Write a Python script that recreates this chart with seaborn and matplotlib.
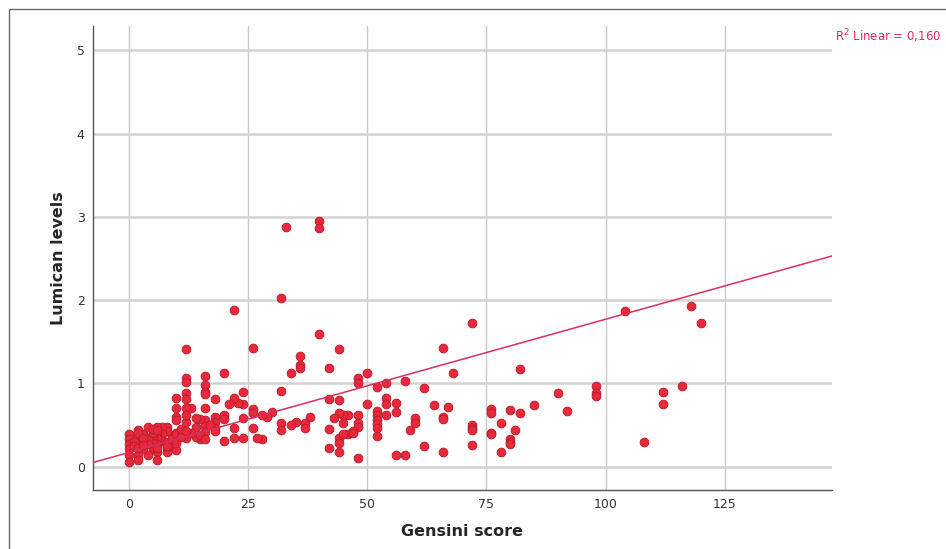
import matplotlib
matplotlib.use("Agg")
import matplotlib.pyplot as plt
import matplotlib.patches as mpatches
import seaborn as sns
import pandas as pd

# Values (Gensini score vs Lumican levels)
gensini = [
    33, 40, 40, 32, 22, 40, 12, 26, 44, 36, 36, 36, 34, 42, 20, 16, 16, 50, 48, 48,
    54, 52, 58, 62, 72, 66, 68, 82, 104, 118, 120, 116, 112, 112, 98, 98, 98, 90, 92, 85,
    80, 80, 80, 80, 82, 81, 78, 78, 76, 76, 76, 76, 72, 72, 72, 72, 67, 64, 66, 66,
    66, 62, 108, 58, 56, 59, 60, 60, 56, 56, 54, 54, 54, 52, 52, 52, 52, 52, 52, 50,
    48, 48, 48, 48, 47, 46, 45, 45, 44, 44, 44, 44, 43, 42, 42, 42, 44, 46, 47, 45,
    38, 37, 37, 35, 34, 32, 32, 32, 30, 29, 28, 28, 27, 26, 26, 26, 24, 24, 23, 22,
    21, 24, 24, 22, 22, 20, 20, 20, 18, 18, 18, 18, 16, 16, 16, 16, 16, 16, 15, 15,
    14, 14, 13, 12, 12, 12, 12, 12, 12, 12, 13, 10, 10, 10, 10, 10, 10, 10, 9, 9,
    8, 8, 8, 8, 7, 7, 7, 6, 6, 6, 6, 6, 6, 5, 5, 5, 4, 4, 4, 4,
    3, 3, 3, 2, 2, 2, 2, 2, 0, 0, 0, 0, 0, 0, 1, 1, 2, 2, 3, 3,
    5, 5, 6, 6, 8, 8, 9, 10, 10, 11, 11, 12, 12, 14, 15, 16, 17, 18,
]
lumican = [
    2.88, 2.95, 2.87, 2.02, 1.88, 1.59, 1.41, 1.43, 1.41, 1.33, 1.22, 1.18, 1.13, 1.18, 1.12, 1.09, 0.98, 1.12, 1.06, 1.01,
    1.00, 0.96, 1.03, 0.95, 1.73, 1.42, 1.13, 1.17, 1.87, 1.93, 1.72, 0.97, 0.90, 0.75, 0.97, 0.88, 0.85, 0.88, 0.67, 0.74,
    0.68, 0.33, 0.30, 0.27, 0.65, 0.44, 0.52, 0.18, 0.69, 0.65, 0.41, 0.39, 0.50, 0.47, 0.44, 0.26, 0.72, 0.74, 0.60, 0.57,
    0.18, 0.25, 0.30, 0.14, 0.14, 0.44, 0.59, 0.53, 0.77, 0.66, 0.83, 0.75, 0.62, 0.67, 0.62, 0.56, 0.51, 0.47, 0.37, 0.75,
    0.62, 0.52, 0.48, 0.11, 0.43, 0.62, 0.62, 0.52, 0.65, 0.35, 0.29, 0.18, 0.58, 0.81, 0.45, 0.23, 0.80, 0.39, 0.40, 0.39,
    0.60, 0.52, 0.47, 0.54, 0.50, 0.91, 0.52, 0.44, 0.66, 0.60, 0.62, 0.33, 0.34, 0.69, 0.65, 0.47, 0.90, 0.75, 0.77, 0.83,
    0.75, 0.58, 0.34, 0.47, 0.35, 0.62, 0.57, 0.31, 0.81, 0.60, 0.54, 0.46, 0.90, 0.87, 0.71, 0.56, 0.49, 0.42, 0.57, 0.33,
    0.48, 0.36, 0.70, 0.70, 1.06, 1.02, 0.88, 0.81, 0.54, 0.35, 0.41, 0.83, 0.70, 0.60, 0.56, 0.41, 0.36, 0.20, 0.37, 0.29,
    0.48, 0.43, 0.22, 0.18, 0.48, 0.39, 0.31, 0.48, 0.40, 0.34, 0.27, 0.18, 0.08, 0.35, 0.29, 0.22, 0.48, 0.35, 0.27, 0.14,
    0.39, 0.31, 0.21, 0.44, 0.36, 0.29, 0.14, 0.08, 0.39, 0.33, 0.27, 0.21, 0.14, 0.06, 0.30, 0.25, 0.22, 0.40, 0.35, 0.26,
    0.40, 0.45, 0.44, 0.22, 0.30, 0.25, 0.33, 0.29, 0.39, 0.45, 0.36, 0.43, 0.62, 0.58, 0.38, 0.33, 0.50, 0.43,
]
x_ticks = [0, 25, 50, 75, 100, 125]
y_ticks = [0, 1, 2, 3, 4, 5]
# fit line as printed in the chart
fit_intercept = 0.17
fit_slope = 0.016
r2_label = "R$^2$ Linear = 0,160"

df = pd.DataFrame({"Gensini score": gensini, "Lumican levels": lumican})

sns.set_style("white")
plt.rcParams["font.family"] = ["DejaVu Sans"]

fig = plt.figure(figsize=(9.46, 5.49), dpi=100)
ax = fig.add_axes([0.0983, 0.1075, 0.7812, 0.845])

# outer frame like the exported SPSS chart
fig.patches.append(mpatches.Rectangle((9 / 946, -0.1), 1.2, 1.1 - 9 / 549,
                                      transform=fig.transFigure, fill=False,
                                      edgecolor="#6a6a6a", linewidth=1.0))

ax.set_xlim(-7.5, 147.5)
ax.set_ylim(-0.28, 5.29)

for xt in x_ticks:
    ax.axvline(xt, color="#c9c9c9", linewidth=1.0, zorder=0)
for yt in y_ticks:
    ax.axhline(yt, color="#d2d2d2", linewidth=1.8, zorder=0)

sns.scatterplot(data=df, x="Gensini score", y="Lumican levels", ax=ax,
                s=40, color="#e8293c", edgecolor="#b51a2b", linewidth=0.6,
                zorder=3)
ax.axline((0, fit_intercept), slope=fit_slope, color="#d9305a",
          linewidth=1.1, zorder=4)

ax.set_xticks(x_ticks)
ax.set_yticks(y_ticks)
ax.tick_params(axis="both", length=0, labelsize=9, colors="#333333", pad=6)
ax.set_xlabel("Gensini score", fontsize=11.5, fontweight="bold", labelpad=9)
ax.set_ylabel("Lumican levels", fontsize=11.5, fontweight="bold", labelpad=8)

for side in ["top", "right"]:
    ax.spines[side].set_visible(False)
for side in ["left", "bottom"]:
    ax.spines[side].set_color("#555555")
    ax.spines[side].set_linewidth(1.0)

fig.text(0.883, 0.934, r2_label, fontsize=8.5, color="#d9305a", va="center")

fig.savefig("out.png", dpi=100)
